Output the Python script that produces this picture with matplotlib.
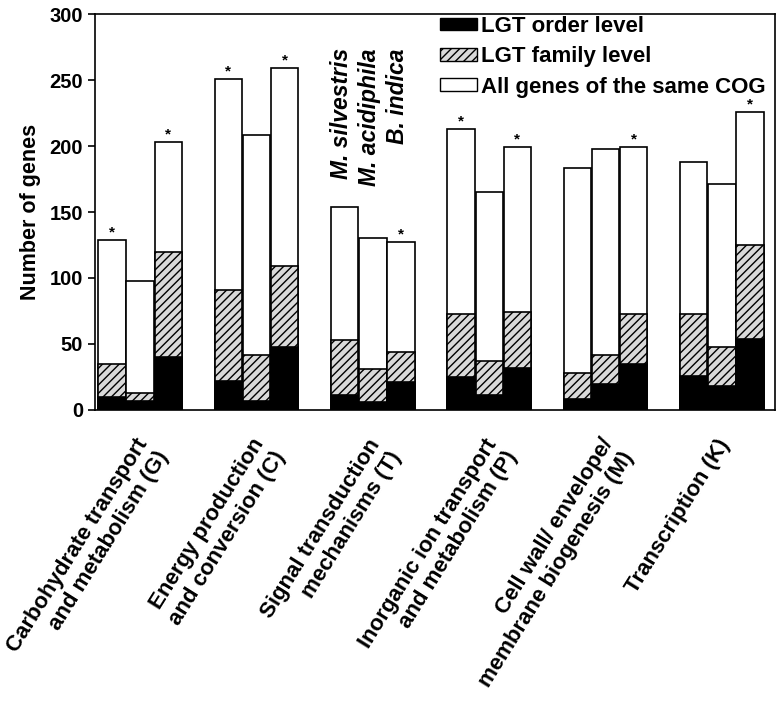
import numpy as np
import matplotlib.pyplot as plt
from matplotlib.patches import Patch

plt.rcParams['font.family'] = ['Liberation Sans', 'DejaVu Sans']
plt.rcParams['font.weight'] = 'bold'
plt.rcParams['axes.labelweight'] = 'bold'
plt.rcParams['hatch.color'] = '#333333'
plt.rcParams['hatch.linewidth'] = 1.0

# Data
categories = ["Carbohydrate transport\nand metabolism (G)",
              "Energy production\nand conversion (C)",
              "Signal transduction\nmechanisms (T)",
              "Inorganic ion transport\nand metabolism (P)",
              "Cell wall/ envelope/\nmembrane biogenesis (M)",
              "Transcription (K)"]
species = ["M. silvestris", "M. acidiphila", "B. indica"]

# per category: [M. silvestris, M. acidiphila, B. indica]
all_genes = np.array([[129, 98, 203],
                      [251, 208, 259],
                      [154, 130, 127],
                      [213, 165, 199],
                      [183, 198, 199],
                      [188, 171, 226]])
family_level = np.array([[35, 13, 120],
                         [91, 42, 109],
                         [53, 31, 44],
                         [73, 37, 74],
                         [28, 42, 73],
                         [73, 48, 125]])
order_level = np.array([[10, 7, 40],
                        [22, 7, 48],
                        [11, 6, 21],
                        [25, 11, 32],
                        [8, 20, 35],
                        [26, 18, 54]])
significant = np.array([[1, 0, 1],
                        [1, 0, 1],
                        [0, 0, 1],
                        [1, 0, 1],
                        [0, 0, 1],
                        [0, 0, 1]])

fig = plt.figure(figsize=(7.77, 7.02), dpi=100)
ax = fig.add_axes([0.122, 0.416, 0.876, 0.564])

width = 0.235
x = np.arange(len(categories))
for j in range(3):
    pos = x + (j - 1) * 0.242
    ax.bar(pos, all_genes[:, j], width, color='white', edgecolor='black', linewidth=1.2)
    ax.bar(pos, family_level[:, j], width, color='#d9d9d9', edgecolor='black',
           hatch='////', linewidth=1.2)
    ax.bar(pos, order_level[:, j], width, color='black', edgecolor='black', linewidth=1.2)
    for i in range(len(categories)):
        if significant[i, j]:
            ax.text(pos[i], all_genes[i, j] + 0.5, '*', ha='center', va='bottom', fontsize=11)

# species labels above the signal transduction group
for j, name in enumerate(species):
    ax.text(2 + (j - 1) * 0.242 - 0.03, 274, name, rotation=90, ha='center', va='top',
            style='italic', fontsize=16.5)

ax.set_xlim(-0.39, 5.46)
ax.set_ylim(0, 300)
ax.set_yticks([0, 50, 100, 150, 200, 250, 300])
ax.set_ylabel("Number of genes", fontsize=15.5, labelpad=6)
ax.tick_params(axis='y', labelsize=14.5, direction='out', length=5, width=1.2)
ax.set_xticks(x - 0.05)
ax.set_xticklabels(categories, rotation=58, ha='right', rotation_mode='anchor',
                   multialignment='right', fontsize=16)
ax.tick_params(axis='x', length=0, pad=18)
for s in ax.spines.values():
    s.set_linewidth(1.2)

handles = [Patch(facecolor='black', edgecolor='black'),
           Patch(facecolor='#d9d9d9', edgecolor='black', hatch='////'),
           Patch(facecolor='white', edgecolor='black')]
labels = ["LGT order level", "LGT family level", "All genes of the same COG"]
ax.legend(handles, labels, loc='upper right', frameon=False, fontsize=16,
          handlelength=1.65, handleheight=0.5, handletextpad=0.2, labelspacing=0.42,
          borderaxespad=0.0, borderpad=0.0, bbox_to_anchor=(0.986, 0.995))

fig.savefig("out.png", dpi=100)
